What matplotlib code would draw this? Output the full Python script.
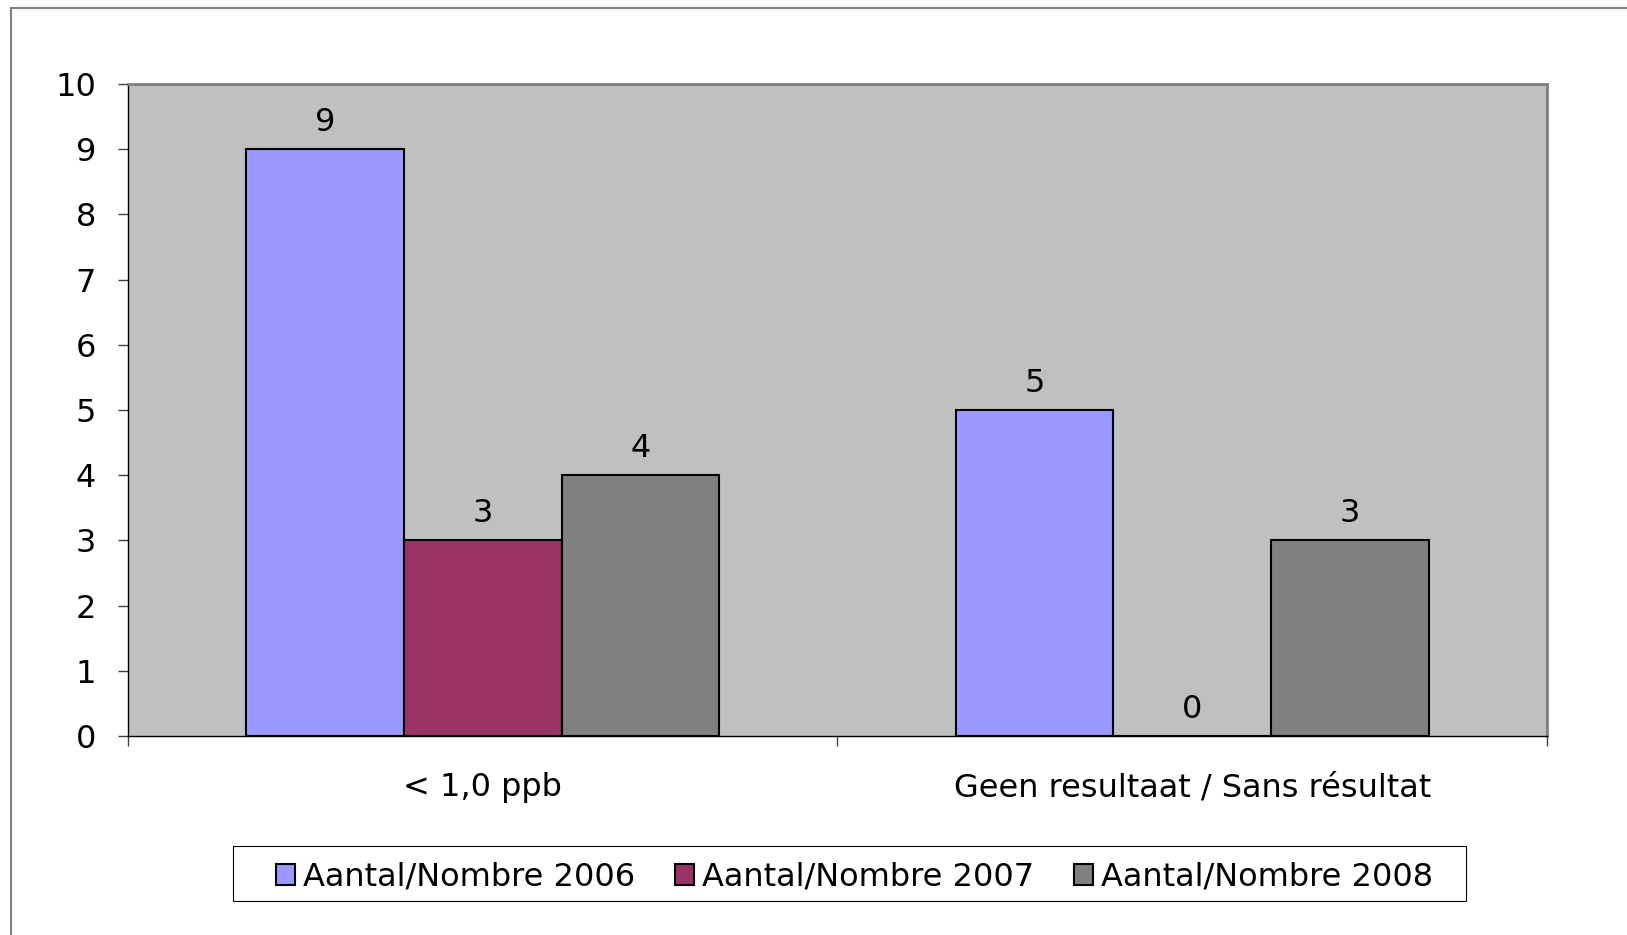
import matplotlib.pyplot as plt
import matplotlib.patches as patches
import numpy as np

categories = ['< 1,0 ppb', 'Geen resultaat / Sans résultat']
series = ['Aantal/Nombre 2006', 'Aantal/Nombre 2007', 'Aantal/Nombre 2008']
values = [[9, 5], [3, 0], [4, 3]]
colors = ['#9999FF', '#993366', '#808080']

plt.rcParams['font.family'] = 'DejaVu Sans'
fs = 23
fig = plt.figure(figsize=(16.27, 9.35), dpi=100)
ax = fig.add_axes([0.0787, 0.2128, 0.8721, 0.6974])
ax.set_facecolor('#C0C0C0')

# outer chart frame
fig.patches.append(patches.Rectangle((11/1627, -0.1), 1.2, 1.1 - 8/935,
                   transform=fig.transFigure, fill=False, edgecolor='#808080', lw=1.5))

x = np.arange(len(categories))
w = 1/4.5
for i, s in enumerate(series):
    pos = x + (i - 1)*w
    ax.bar(pos, values[i], width=w, color=colors[i], edgecolor='black', lw=1.5, label=s, zorder=3)
    for xp, v in zip(pos, values[i]):
        ax.annotate(str(v), (xp, v), xytext=(0, 8), textcoords='offset points',
                    ha='center', va='bottom', fontsize=fs)

ax.set_xlim(-0.5, 1.5)
ax.set_ylim(0, 10)
ax.set_yticks(range(11))
ax.tick_params(axis='y', direction='out', length=7, width=1, labelsize=fs, pad=16, color='#404040')
ax.set_xticks([-0.5, 0.5, 1.5])
ax.set_xticklabels(['', '', ''])
ax.set_xticks(x, minor=True)
ax.set_xticklabels(categories, minor=True, fontsize=fs)
ax.tick_params(axis='x', which='major', direction='out', length=7, width=1, color='#404040')
ax.tick_params(axis='x', which='minor', length=0, pad=26)

for side in ['top', 'right']:
    ax.spines[side].set_color('#808080')
    ax.spines[side].set_linewidth(2)
for side in ['left', 'bottom']:
    ax.spines[side].set_color('black')
    ax.spines[side].set_linewidth(1)

# legend box drawn separately for wider side padding
fig.patches.append(patches.Rectangle((233/1627, 1 - 901/935), (1466 - 233)/1627, 55/935,
                   transform=fig.transFigure, facecolor='white', edgecolor='black', lw=0.8))
leg = fig.legend(loc='center', bbox_to_anchor=(0.5252, 0.0618), ncol=3, fontsize=fs,
                 frameon=False, handlelength=0.6, handleheight=0.6, handletextpad=0.25,
                 columnspacing=1.25, borderpad=0, borderaxespad=0)

fig.savefig('out.png', dpi=100)
